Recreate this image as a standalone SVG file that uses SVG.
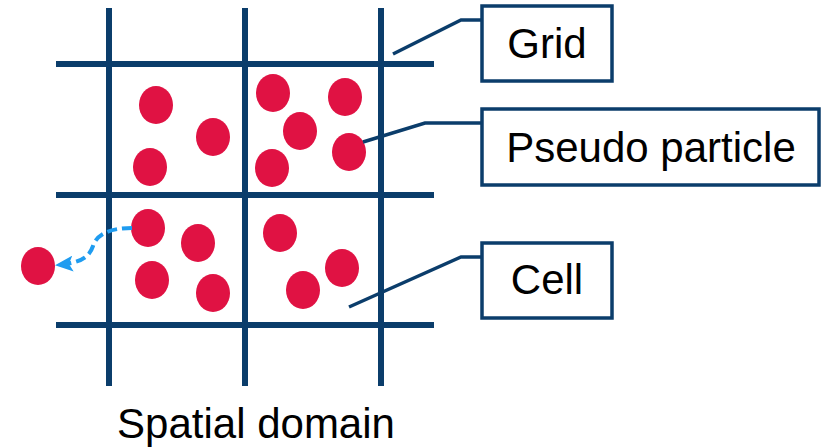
<svg xmlns="http://www.w3.org/2000/svg" width="822" height="448" viewBox="0 0 822 448">
<style>
.g{stroke:#0b3d6b;stroke-width:6;fill:none}
.c{stroke:#0b3d6b;stroke-width:3.5;fill:none}
.box{stroke:#0b3d6b;stroke-width:3.5;fill:#fff}
.p{fill:#e01243}
.t{font-family:"Liberation Sans",Arial,sans-serif;font-size:42px;fill:#000;text-anchor:middle}
</style>
<defs>
<marker id="ah" viewBox="0 0 18 16" refX="16" refY="8" markerWidth="18" markerHeight="16" markerUnits="userSpaceOnUse" orient="auto">
<path d="M0,0 L18,8 L0,16 L4,8 Z" fill="#1f9cf0"/>
</marker>
</defs>
<rect width="822" height="448" fill="#fff"/>
<g id="grid">
<line class="g" x1="109" y1="8" x2="109" y2="386"/>
<line class="g" x1="245" y1="8" x2="245" y2="386"/>
<line class="g" x1="381" y1="8" x2="381" y2="386"/>
<line class="g" x1="56" y1="64" x2="434" y2="64"/>
<line class="g" x1="56" y1="195" x2="434" y2="195"/>
<line class="g" x1="56" y1="325" x2="434" y2="325"/>
</g>
<g id="particles">
<ellipse class="p" cx="156" cy="105" rx="17" ry="19"/>
<ellipse class="p" cx="213" cy="137" rx="17" ry="19"/>
<ellipse class="p" cx="150" cy="167" rx="17" ry="19"/>
<ellipse class="p" cx="273" cy="93" rx="17" ry="19"/>
<ellipse class="p" cx="345" cy="97" rx="17" ry="19"/>
<ellipse class="p" cx="300" cy="131" rx="17" ry="19"/>
<ellipse class="p" cx="272" cy="168" rx="17" ry="19"/>
<ellipse class="p" cx="349" cy="152" rx="17" ry="19"/>
<ellipse class="p" cx="148" cy="228" rx="17" ry="19"/>
<ellipse class="p" cx="198" cy="243" rx="17" ry="19"/>
<ellipse class="p" cx="152" cy="280" rx="17" ry="19"/>
<ellipse class="p" cx="213" cy="293" rx="17" ry="19"/>
<ellipse class="p" cx="280" cy="233" rx="17" ry="19"/>
<ellipse class="p" cx="342" cy="268" rx="17" ry="19"/>
<ellipse class="p" cx="303" cy="290" rx="17" ry="19"/>
<ellipse class="p" cx="38" cy="266" rx="17" ry="19"/>
</g>
<g id="connectors">
<path d="M132,228 C110,228 97,234 93,246 C89,258 80,263 57,265" fill="none" stroke="#1f9cf0" stroke-width="4" stroke-dasharray="10,5" marker-end="url(#ah)"/>
<polyline class="c" points="393,54 461,20 482,20"/>
<polyline class="c" points="363,142 425,123 482,123"/>
<polyline class="c" points="349,307 461,257 482,257"/>
</g>
<g id="label-grid">
<rect class="box" x="482" y="6" width="130" height="75"/>
<text class="t" x="547" y="58">Grid</text>
</g>
<g id="label-pseudo-particle">
<rect class="box" x="482" y="109" width="337" height="76"/>
<text class="t" x="651" y="162">Pseudo particle</text>
</g>
<g id="label-cell">
<rect class="box" x="482" y="243" width="130" height="75"/>
<text class="t" x="547" y="294">Cell</text>
</g>
<g id="label-spatial-domain">
<text class="t" x="256" y="438">Spatial domain</text>
</g>
</svg>
